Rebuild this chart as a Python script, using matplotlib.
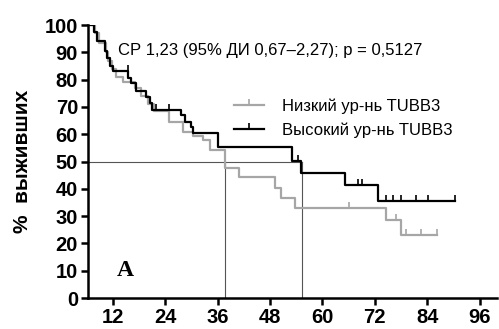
import matplotlib.pyplot as plt
from matplotlib.lines import Line2D

plt.rcParams['font.family'] = ['Liberation Sans', 'DejaVu Sans']

# высокий уровень TUBB3 (чёрная кривая)
high_t = [6.3, 7.7, 8.3, 10.2, 10.6, 11.3, 12.1, 15.5, 16.3, 17.4, 19.7, 20.5, 20.9,
          27.7, 28.5, 30.0, 30.4, 36.1, 53.1, 55.2, 65.1, 72.7, 90.3]
high_s = [100, 97.4, 94, 90.5, 88, 85, 83, 80.6, 78.7, 76, 73.6, 71.4, 69,
          67, 64.5, 62.5, 60.3, 55.3, 50.3, 45.9, 41.4, 35.5, 35.5]
high_cens_t = [15.5, 22.0, 25.0, 54.5, 68.1, 69.0, 74.5, 76.2, 78.1, 81.5, 84.2, 90.3]
high_cens_s = [83, 69, 69, 50.3, 41.4, 41.4, 35.5, 35.5, 35.5, 35.5, 35.5, 35.5]

# низкий уровень TUBB3 (серая кривая)
low_t = [6.3, 8.0, 8.8, 10.4, 11.0, 11.8, 12.8, 14.4, 17.0, 18.5, 20.0, 21.5,
         25.0, 28.1, 30.4, 32.7, 34.2, 37.6, 40.9, 49.1, 50.6, 53.7, 74.6, 78.1, 86.2]
low_s = [100, 97, 93.5, 90, 87, 84, 81, 79, 77, 74, 71, 68.5,
         64.6, 61, 59.5, 57.9, 54.2, 47.5, 44.2, 40.2, 36.5, 32.9, 28.6, 23, 23]
low_cens_t = [66.1, 76.9, 79.2, 82.6, 86.2]
low_cens_s = [32.9, 28.6, 23, 23, 23]

medians = [37.8, 55.3]
xticks = [12, 24, 36, 48, 60, 72, 84, 96]
yticks = list(range(0, 101, 10))

gray = '#a6a6a6'

fig = plt.figure(figsize=(4.99, 3.29), dpi=100)
ax = fig.add_axes([0.176, 0.094, 0.82, 0.83])

# медианы
ax.plot([6.3, max(medians)], [50, 50], color='#555555', lw=0.8, zorder=1)
for m in medians:
    ax.plot([m, m], [0, 50], color='#555555', lw=0.8, zorder=1)

ax.step(low_t, low_s, where='post', color=gray, lw=1.6, zorder=2)
ax.plot(low_cens_t, low_cens_s, ls='none', marker=2, ms=4, mew=1.2, color=gray, zorder=2)
ax.step(high_t, high_s, where='post', color='black', lw=1.6, zorder=3)
ax.plot(high_cens_t, high_cens_s, ls='none', marker=2, ms=4, mew=1.2, color='black', zorder=3)

ax.set_xlim(6.3, 100)
ax.set_ylim(0, 100)
ax.set_xticks(xticks)
ax.set_yticks(yticks)
for s in ['top', 'right']:
    ax.spines[s].set_visible(False)
for s in ['left', 'bottom']:
    ax.spines[s].set_linewidth(1.8)
ax.tick_params(width=1.8, length=5, labelsize=14.5, pad=2)
for lab in ax.get_xticklabels() + ax.get_yticklabels():
    lab.set_fontweight('bold')
ax.set_ylabel('%  выживших', fontsize=15, fontweight='bold', labelpad=9)

ax.text(0.074, 0.905, 'СР 1,23 (95% ДИ 0,67–2,27); р = 0,5127', transform=ax.transAxes,
        fontsize=12, va='center')
ax.text(0.07, 0.1, 'A', transform=ax.transAxes, fontsize=17, fontweight='bold',
        family='Liberation Serif', va='center')

handles = [Line2D([], [], color=gray, lw=1.6, marker=2, ms=4, mew=1.2),
           Line2D([], [], color='black', lw=1.6, marker=2, ms=4, mew=1.2)]
ax.legend(handles, ['Низкий ур-нь TUBB3', 'Высокий ур-нь TUBB3'], loc='upper left',
          bbox_to_anchor=(0.32, 0.785), frameon=False, fontsize=12, handlelength=1.8,
          handletextpad=1.1, labelspacing=0.5)

fig.savefig('out.png', dpi=100)
